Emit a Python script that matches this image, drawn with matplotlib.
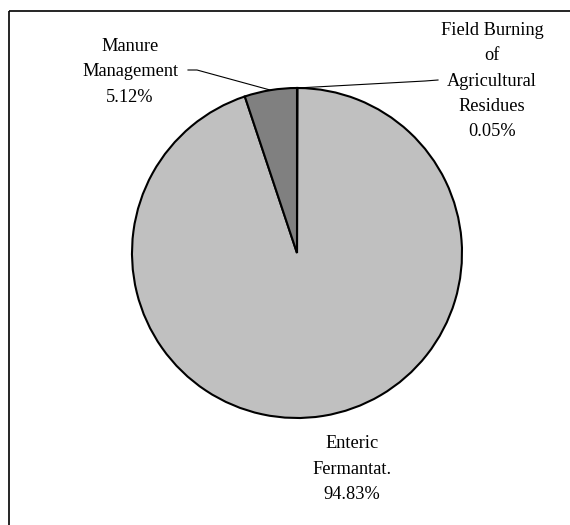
import numpy as np
import matplotlib
matplotlib.use("Agg")
import matplotlib.pyplot as plt

# data
categories = ["Field Burning\nof\nAgricultural\nResidues", "Enteric\nFermantat.", "Manure\nManagement"]
shares = [0.05, 94.83, 5.12]
colors = ["#c0c0c0", "#c0c0c0", "#808080"]

W, H = 570, 525
fig = plt.figure(figsize=(W / 100, H / 100), dpi=100)
ax = fig.add_axes([0, 0, 1, 1])

cx, cy, r = 297, H - 253, 165
wedges, _ = ax.pie(shares, colors=colors, startangle=90, counterclock=False,
                   center=(cx, cy), radius=r, frame=True,
                   wedgeprops=dict(edgecolor="black", linewidth=1.5))
ax.set_xlim(0, W)
ax.set_ylim(0, H)
ax.set_aspect("equal")
ax.axis("off")

font = dict(family="Liberation Serif", fontsize=13.2, color="black",
            ha="center", va="center", linespacing=1.65)

def anchor(w):
    ang = np.deg2rad((w.theta1 + w.theta2) / 2)
    return cx + r * np.cos(ang), cy + r * np.sin(ang)

# label positions (pixel layout)
label_pos = [(492, H - 81), (352, H - 469), (130, H - 72)]
starts = [(438, H - 80), None, (188, H - 70)]
elbows = [(425, H - 81), None, (197, H - 70)]

for w, name, val, pos, el, st in zip(wedges, categories, shares, label_pos, elbows, starts):
    ax.text(pos[0], pos[1], f"{name}\n{val:.2f}%", **font)
    if el is not None:
        ax_, ay_ = anchor(w)
        if w.theta2 - w.theta1 < 1:
            ax_, ay_ = cx, cy + r
        ax.plot([st[0], el[0], ax_], [st[1], el[1], ay_], color="black", lw=0.8)

# frame lines (left and top only)
ax.plot([9, 9], [0, H - 11], color="black", lw=1.2, solid_capstyle="butt")
ax.plot([9, W], [H - 11, H - 11], color="black", lw=1.2, solid_capstyle="butt")

fig.savefig("out.png", dpi=100)
